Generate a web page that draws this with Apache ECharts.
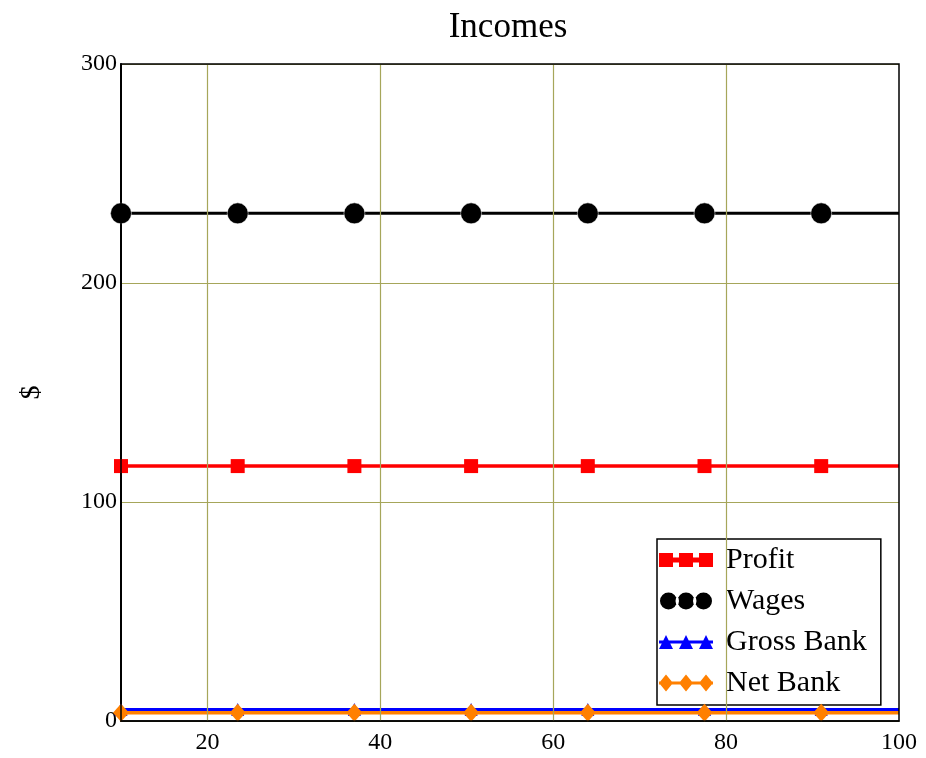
<!DOCTYPE html>
<html lang="en">
<head>
    <meta charset="UTF-8">
    <title>Incomes</title>
    <script src="https://cdn.jsdelivr.net/npm/echarts@6/dist/echarts.min.js"></script>
</head>
<body style="margin:0;background:#fff;">
    <div id="pic1" style="width:926px;height:758px;"></div>
    <script>
        // data
        var xValues = [10, 23.5, 37, 50.5, 64, 77.5, 91, 100];
        var profit = [116.4, 116.4, 116.4, 116.4, 116.4, 116.4, 116.4, 116.4];
        var wages = [231.8, 231.8, 231.8, 231.8, 231.8, 231.8, 231.8, 231.8];
        var grossBank = [5.3, 5.3, 5.3, 5.3, 5.3, 5.3, 5.3, 5.3];
        var netBank = [3.8, 3.8, 3.8, 3.8, 3.8, 3.8, 3.8, 3.8];
        var xGridValues = [20, 40, 60, 80];

        var serif = '"Liberation Serif", "DejaVu Serif", serif';
        var gridColor = '#a6a65a';

        // pair x with y, no marker on the last point (line just runs to the edge)
        function pairs(ys) {
            var list = [];
            for (var i = 0; i < xValues.length; i++) {
                var item = { value: [xValues[i], ys[i]] };
                if (i == xValues.length - 1) item.symbol = 'none';
                list.push(item);
            }
            return list;
        }

        var myChart = echarts.init(document.getElementById("pic1"));

        var option = {
            backgroundColor: '#ffffff',
            animation: false,
            title: {
                text: 'Incomes',
                left: 503,
                textAlign: 'center',
                top: 5,
                textStyle: { fontFamily: serif, fontSize: 35, fontWeight: 'normal', color: '#000' }
            },
            legend: {
                orient: 'vertical',
                left: 657,
                top: 539,
                backgroundColor: '#fff',
                borderColor: '#000',
                borderWidth: 1.5,
                borderRadius: 0,
                padding: [6, 14, 7, 1],
                itemGap: 11,
                itemWidth: 54,
                itemHeight: 19,
                textStyle: { fontFamily: serif, fontSize: 30, color: '#000', padding: [0, 0, 0, 8] },
                data: [
                    { name: 'Profit', icon: 'path://M0,2.5h14v14h-14z M20,2.5h14v14h-14z M40,2.5h14v14h-14z M0,7h54v5h-54z' },
                    { name: 'Wages', icon: 'path://M0,9.5a9.5,9.5 0 1,0 19,0a9.5,9.5 0 1,0 -19,0z M17.5,9.5a9.5,9.5 0 1,0 19,0a9.5,9.5 0 1,0 -19,0z M35,9.5a9.5,9.5 0 1,0 19,0a9.5,9.5 0 1,0 -19,0z' },
                    { name: 'Gross Bank', icon: 'path://M0,17L7,3L14,17z M20,17L27,3L34,17z M40,17L47,3L54,17z M0,8.5h54v3h-54z' },
                    { name: 'Net Bank', icon: 'path://M0,9.5L7,1L14,9.5L7,18z M20,9.5L27,1L34,9.5L27,18z M40,9.5L47,1L54,9.5L47,18z M0,8h54v3h-54z' }
                ]
            },
            grid: {
                left: 121,
                right: 27,
                top: 64,
                bottom: 37,
                show: true,
                z: 10,
                borderColor: '#000',
                borderWidth: 1.5
            },
            xAxis: {
                type: 'value',
                min: 10,
                max: 100,
                interval: 10,
                axisLine: { show: true, lineStyle: { color: '#000', width: 1.5 } },
                axisTick: { show: false },
                splitLine: { show: false },
                axisLabel: {
                    fontFamily: serif, fontSize: 24, color: '#000', margin: 10,
                    formatter: function (v) { return v % 20 == 0 ? String(v) : ''; }
                }
            },
            yAxis: {
                type: 'value',
                min: 0,
                max: 300,
                interval: 100,
                name: '$',
                nameLocation: 'middle',
                nameRotate: 90,
                nameGap: 75,
                nameTextStyle: { fontFamily: serif, fontSize: 28, color: '#000' },
                axisLine: { show: true, lineStyle: { color: '#000', width: 2 } },
                axisTick: { show: false },
                splitLine: { show: true, lineStyle: { color: gridColor, width: 1.2 } },
                axisLabel: { fontFamily: serif, fontSize: 24, color: '#000', margin: 4 }
            },
            series: [
                {
                    name: 'Profit',
                    type: 'line',
                    data: pairs(profit),
                    symbol: 'rect',
                    symbolSize: 14,
                    color: '#ff0000',
                    lineStyle: { width: 3.5 },
                    markLine: {
                        silent: true,
                        symbol: 'none',
                        label: { show: false },
                        lineStyle: { color: gridColor, width: 1.2, type: 'solid' },
                        data: xGridValues.map(function (v) { return { xAxis: v }; })
                    },
                    z: 3
                },
                {
                    name: 'Wages',
                    type: 'line',
                    data: pairs(wages),
                    symbol: 'circle',
                    symbolSize: 21,
                    color: '#000000',
                    itemStyle: { borderColor: '#fff', borderWidth: 0.5 },
                    lineStyle: { width: 3 },
                    z: 3
                },
                {
                    name: 'Gross Bank',
                    type: 'line',
                    data: pairs(grossBank),
                    symbol: 'triangle',
                    symbolSize: 13,
                    color: '#0000ff',
                    lineStyle: { width: 3 },
                    z: 3
                },
                {
                    name: 'Net Bank',
                    type: 'line',
                    data: pairs(netBank),
                    symbol: 'diamond',
                    symbolSize: [16, 18],
                    color: '#ff8000',
                    lineStyle: { width: 3.5 },
                    z: 4
                }
            ]
        };

        myChart.setOption(option);
    </script>
</body>
</html>
